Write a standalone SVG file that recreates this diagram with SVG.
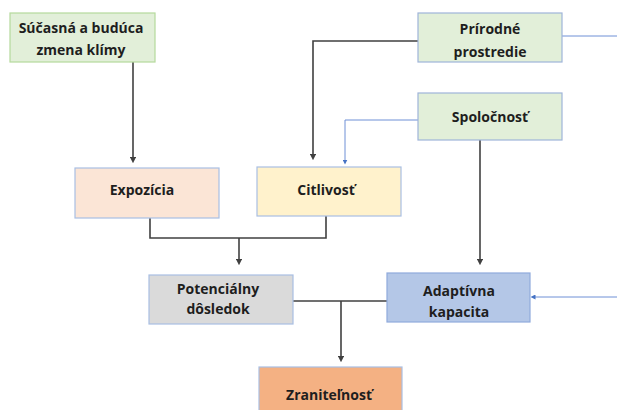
<svg xmlns="http://www.w3.org/2000/svg" width="617" height="410" viewBox="0 0 617 410">
  <style>
    .box { stroke-width: 1.2; }
    .t { font-family: "Open Sans", "Liberation Sans", sans-serif; font-weight: bold; font-size: 14px; fill: #1e1e1e; text-anchor: middle; }
    .dk { fill: none; stroke: #404040; stroke-width: 1.6; }
    .bl { fill: none; stroke: #6f90d6; stroke-width: 1; }
  </style>
  <defs>
    <marker id="ad" viewBox="0 0 6 6" refX="3" refY="3" markerWidth="4" markerHeight="4" orient="auto">
      <path d="M0,0 L6,3 L0,6 Z" fill="#404040"/>
    </marker>
    <marker id="ab" viewBox="0 0 6 6" refX="3" refY="3" markerWidth="5" markerHeight="5" orient="auto">
      <path d="M0,0 L6,3 L0,6 Z" fill="#4472c4"/>
    </marker>
  </defs>
  <rect width="617" height="410" fill="#ffffff"/>

  <g id="connectors">
    <!-- climate change to exposure -->
    <path class="dk" d="M133,62 V160" marker-end="url(#ad)"/>
    <!-- natural environment to sensitivity -->
    <path class="dk" d="M418,41 H313 V157" marker-end="url(#ad)"/>
    <!-- natural environment, outgoing to the right -->
    <path class="bl" d="M562,36 H617"/>
    <!-- society to sensitivity -->
    <path class="bl" d="M418,120 H345 V162" marker-end="url(#ab)"/>
    <!-- society to adaptive capacity -->
    <path class="dk" d="M480,140 V262" marker-end="url(#ad)"/>
    <!-- exposure + sensitivity to potential impact -->
    <path class="dk" d="M150,218 V238 H326 V216"/>
    <path class="dk" d="M239,238 V262" marker-end="url(#ad)"/>
    <!-- potential impact + adaptive capacity to vulnerability -->
    <path class="dk" d="M293,301 H387"/>
    <path class="dk" d="M341,301 V359" marker-end="url(#ad)"/>
    <!-- incoming from the right to adaptive capacity -->
    <path class="bl" d="M617,297 H533" marker-end="url(#ab)"/>
  </g>

  <g id="node-klima">
    <rect class="box" x="10" y="13" width="145" height="49" fill="#e2efd9" stroke="#b5d99c"/>
    <text class="t" x="81" y="33">Súčasná a budúca</text>
    <text class="t" x="81" y="55">zmena klímy</text>
  </g>
  <g id="node-prostredie">
    <rect class="box" x="418" y="13" width="144" height="49" fill="#e2efd9" stroke="#9fb4d9"/>
    <text class="t" x="490" y="34">Prírodné</text>
    <text class="t" x="490" y="57">prostredie</text>
  </g>
  <g id="node-spolocnost">
    <rect class="box" x="418" y="93" width="144" height="47" fill="#e2efd9" stroke="#9fb4d9"/>
    <text class="t" x="490" y="122">Spoločnosť</text>
  </g>
  <g id="node-expozicia">
    <rect class="box" x="75" y="168" width="144" height="50" fill="#fbe5d6" stroke="#a9bfe3"/>
    <text class="t" x="142" y="195">Expozícia</text>
  </g>
  <g id="node-citlivost">
    <rect class="box" x="257" y="167" width="144" height="49" fill="#fff2cc" stroke="#a9bfe3"/>
    <text class="t" x="326" y="195">Citlivosť</text>
  </g>
  <g id="node-dosledok">
    <rect class="box" x="149" y="275" width="144" height="49" fill="#dadada" stroke="#a9bfe3"/>
    <text class="t" x="218" y="294">Potenciálny</text>
    <text class="t" x="218" y="314">dôsledok</text>
  </g>
  <g id="node-kapacita">
    <rect class="box" x="387" y="273" width="143" height="49" fill="#b4c7e7" stroke="#8faadc"/>
    <text class="t" x="459" y="296">Adaptívna</text>
    <text class="t" x="459" y="317">kapacita</text>
  </g>
  <g id="node-zranitelnost">
    <rect class="box" x="259" y="367" width="143" height="50" fill="#f4b183" stroke="#a9bfe3"/>
    <text class="t" x="329" y="400">Zraniteľnosť</text>
  </g>
</svg>
